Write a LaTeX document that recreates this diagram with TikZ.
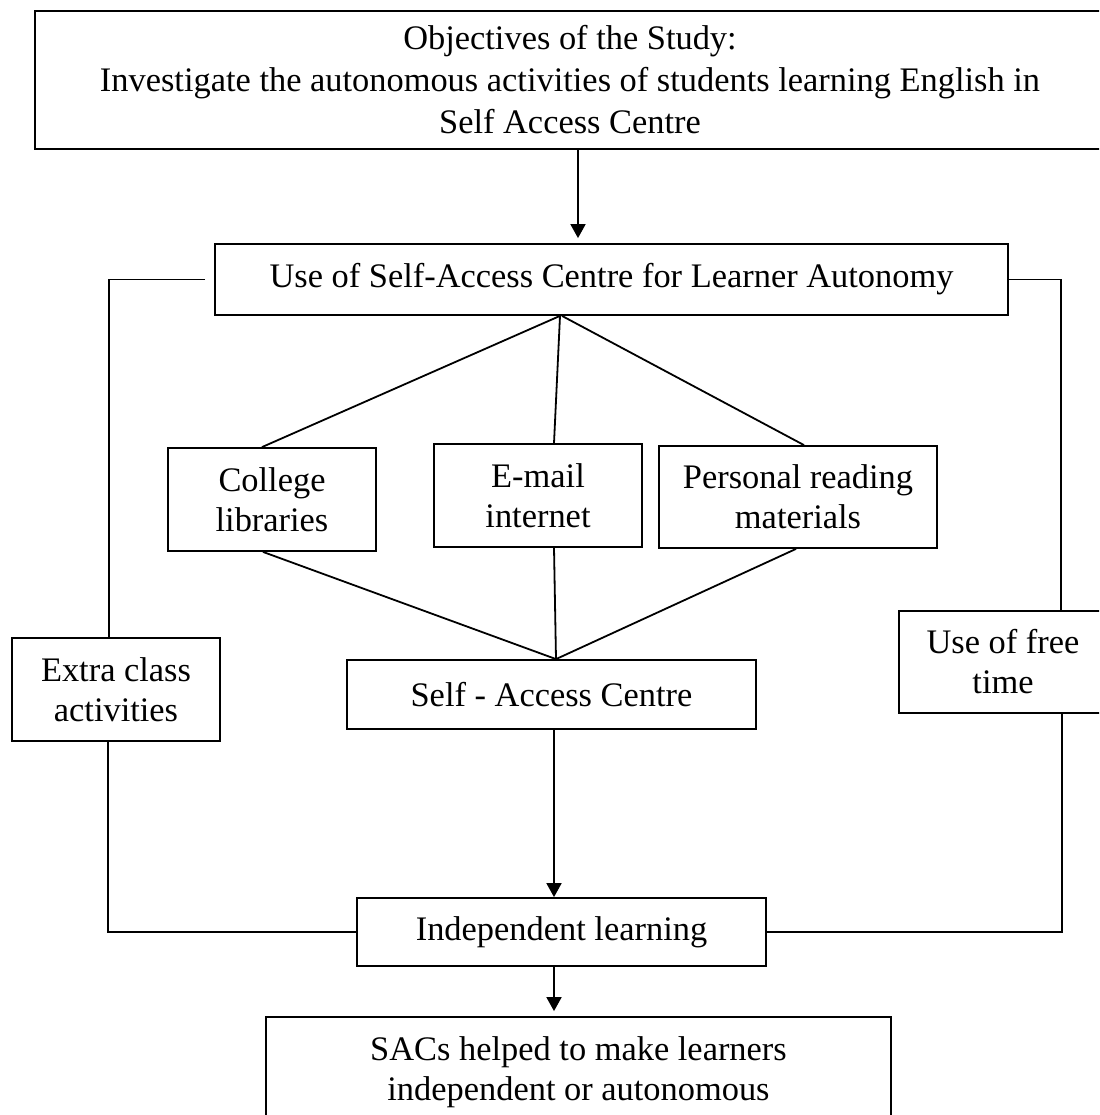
\documentclass[tikz,border=0pt]{standalone}
\usepackage{fontspec}
\setmainfont{Liberation Serif}
\usetikzlibrary{arrows.meta}
\begin{document}
\begin{tikzpicture}[x=1pt,y=-1pt,
  box/.style={draw, line width=1.8pt, rectangle, inner sep=0pt, align=center,
              font=\fontsize{34.4}{40}\selectfont},
  conn/.style={line width=1.8pt},
  arr/.style={conn, -{Triangle[length=14pt,width=15pt]}}]
\useasboundingbox (0,0) rectangle (1099,1115);
\fill[white] (0,0) rectangle (1099,1115);
\clip (0,0) rectangle (1099,1115);

\node[box, minimum width=1070pt, minimum height=138pt, font=\fontsize{34.4}{42}\selectfont] (top) at (570,80)
  {Objectives of the Study:\\Investigate the autonomous activities of students learning English in\\Self Access Centre};
\node[box, minimum width=793pt, minimum height=71pt] (use) at (611.5,279.5)
  {Use of Self-Access Centre for Learner Autonomy};
\node[box, minimum width=208pt, minimum height=103pt] (college) at (272,499.5) {College\\libraries};
\node[box, minimum width=208pt, minimum height=103pt] (email) at (538,495.5) {E-mail\\internet};
\node[box, minimum width=278pt, minimum height=102pt] (personal) at (798,497) {Personal reading\\materials};
\node[box, minimum width=208pt, minimum height=103pt] (extra) at (116,689.5) {Extra class\\activities};
\node[box, minimum width=409pt, minimum height=69pt] (sac) at (551.5,694.5) {Self - Access Centre};
\node[box, minimum width=208pt, minimum height=102pt] (free) at (1003,662) {Use of free\\time};
\node[box, minimum width=409pt, minimum height=68pt] (indep) at (561.5,932) {Independent learning};
\node[box, minimum width=625pt, minimum height=110pt] (final) at (578.5,1072)
  {SACs helped to make learners\\independent or autonomous};

% top -> use
\draw[arr, shorten >=5pt] (578,0 |- top.south) -- (578,0 |- use.north);
% side connectors
\draw[conn, shorten <=9pt] (use.west) -| (109,0 |- extra.north);
\draw[conn] (use.east) -| (1061,0 |- free.north);
\draw[conn] (108,0 |- extra.south) |- (indep.west);
\draw[conn] (1062,0 |- free.south) |- (indep.east);
% fan out
\draw[conn] (560,0 |- use.south) -- (262,0 |- college.north);
\draw[conn] (560,0 |- use.south) -- (554,0 |- email.north);
\draw[conn] (562,0 |- use.south) -- (804,0 |- personal.north);
% fan in
\draw[conn] (263,0 |- college.south) -- (556,0 |- sac.north);
\draw[conn] (554,0 |- email.south) -- (556,0 |- sac.north);
\draw[conn] (796,0 |- personal.south) -- (556,0 |- sac.north);
% down arrows
\draw[arr] (554,0 |- sac.south) -- (554,0 |- indep.north);
\draw[arr, shorten >=5pt] (554,0 |- indep.south) -- (554,0 |- final.north);
\end{tikzpicture}
\end{document}
